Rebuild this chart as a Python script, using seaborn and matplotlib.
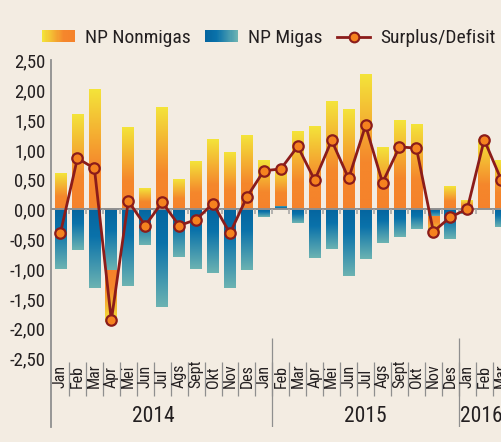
import numpy as np
import matplotlib
matplotlib.use("Agg")
import matplotlib.pyplot as plt
import seaborn as sns
from matplotlib import font_manager
from matplotlib.colors import LinearSegmentedColormap
from matplotlib.patches import Patch, Rectangle
from matplotlib.lines import Line2D
from matplotlib.legend_handler import HandlerBase

# data (triliun US$)
months = ["Jan", "Feb", "Mar", "Apr", "Mei", "Jun", "Jul", "Ags", "Sept", "Okt", "Nov", "Des",
          "Jan", "Feb", "Mar", "Apr", "Mei", "Jun", "Jul", "Ags", "Sept", "Okt", "Nov", "Des",
          "Jan", "Feb", "Mar"]
years = ["2014", "2015", "2016"]
nonmigas = [0.60, 1.58, 2.00, -0.86, 1.36, 0.34, 1.71, 0.50, 0.80, 1.16, 0.94, 1.23,
            0.82, 0.63, 1.30, 1.38, 1.80, 1.67, 2.25, 1.03, 1.48, 1.42, -0.27, 0.38,
            0.15, 1.17, 0.82]
migas = [-1.00, -0.68, -1.31, -1.02, -1.29, -0.60, -1.63, -0.80, -1.00, -1.06, -1.31, -1.02,
         -0.13, 0.06, -0.23, -0.81, -0.67, -1.12, -0.83, -0.56, -0.46, -0.33, -0.13, -0.49,
         -0.08, 0.00, -0.30]
surplus = [-0.39, 0.86, 0.69, -1.86, 0.14, -0.27, 0.12, -0.27, -0.17, 0.10, -0.40, 0.21,
           0.65, 0.68, 1.06, 0.49, 1.16, 0.52, 1.41, 0.45, 1.05, 1.03, -0.37, -0.13,
           0.01, 1.17, 0.50]

# fonts: look for any condensed / narrow face, the original uses one
scale = 1.0
cands = [f for f in font_manager.fontManager.ttflist
         if any(s in (f.fname + " " + f.name).lower() for s in ("narrow", "condensed"))
         and f.style == "normal" and f.weight in (400, "normal", "regular")
         and "semi" not in f.fname.lower() and "extra" not in f.fname.lower()]
if cands:
    pick = cands[0]
    for pref in ("Liberation Sans Narrow", "Roboto Condensed", "Open Sans Condensed",
                 "Noto Sans", "DejaVu Sans"):
        hit = [c for c in cands if c.name == pref]
        if hit:
            pick = hit[0]
            break
    plt.rcParams["font.family"] = [pick.name, "DejaVu Sans"]
    plt.rcParams["font.stretch"] = pick.stretch
else:
    plt.rcParams["font.family"] = ["Liberation Sans", "DejaVu Sans"]
    scale = 0.86

BG = "#f3ece2"
TXT = "#231f20"
GRAY = "#8f8f8f"
LINE = "#8b1c1a"
DOT = "#f5821f"
cmap_nm = LinearSegmentedColormap.from_list(
    "nm", [(0, "#f5822b"), (0.35, "#f5872c"), (1, "#f3e43a")])
cmap_mg = LinearSegmentedColormap.from_list(
    "mg", [(0, "#05659f"), (0.35, "#0a72aa"), (1, "#6cb3b2")])

n = len(months)
pos = np.arange(n)
nm = np.array(nonmigas)
mg = np.array(migas)
# nonmigas stacks on top of migas when both have the same sign
nm_bottom = np.where(np.sign(nm) == np.sign(mg), mg, 0.0)

fig = plt.figure(figsize=(5.02, 4.42), dpi=100, facecolor=BG)
ax = fig.add_axes([51 / 502, 15 / 442, 1 - 51 / 502, 366.5 / 442])
ax.set_facecolor(BG)


def fill_gradient(patch, cmap):
    x, y = patch.get_x(), patch.get_y()
    w, h = patch.get_width(), patch.get_height()
    patch.set_facecolor("none")
    patch.set_edgecolor("none")
    if h == 0:
        return
    grad = np.linspace(0, 1, 256).reshape(-1, 1)
    if h < 0:
        grad = grad[::-1]
    y0, y1 = sorted([y, y + h])
    ax.imshow(grad, cmap=cmap, extent=[x, x + w, y0, y1], origin="lower",
              aspect="auto", zorder=2, interpolation="bilinear")


k = len(ax.patches)
sns.barplot(x=pos, y=mg, color=cmap_mg(0), width=0.69, errorbar=None,
            saturation=1, ax=ax)
mg_bars = ax.patches[k:]
k = len(ax.patches)
sns.barplot(x=pos, y=nm, color=cmap_nm(0), width=0.69, errorbar=None,
            saturation=1, ax=ax)
nm_bars = ax.patches[k:]

for p in mg_bars:
    fill_gradient(p, cmap_mg)
for p, b in zip(nm_bars, nm_bottom):
    p.set_y(b)
    fill_gradient(p, cmap_nm)

sns.lineplot(x=pos, y=surplus, ax=ax, color=LINE, linewidth=2.0, marker="o",
             markersize=7.5, markerfacecolor=DOT, markeredgecolor=LINE,
             markeredgewidth=1.6, zorder=6, legend=False)

# zero line with small ticks between months
ax.axhline(0, color=GRAY, lw=1.4, zorder=4)
ax.vlines(pos[:-1] + 0.5, -0.07, 0, color="#a8a8a8", lw=1.2, zorder=4)

# month labels, separators and years under the plot
for i, m in enumerate(months):
    ax.text(i, -2.99, m, rotation=90, ha="center", va="bottom",
            fontsize=11.5 * scale, color=TXT)
ax.vlines(pos[:-1] + 0.5, -2.56, -3.13, color=GRAY, lw=0.9)
ax.vlines([12.5, 23.5], -2.16, -3.65, color=GRAY, lw=0.9)
ax.text(5.5, -3.48, years[0], ha="center", va="center", fontsize=15.5 * scale, color=TXT)
ax.text(18.0, -3.48, years[1], ha="center", va="center", fontsize=15.5 * scale, color=TXT)
ax.text(23.55, -3.48, years[2], ha="left", va="center", fontsize=15.5 * scale, color=TXT)

ax.set_xlim(-0.56, 26.05)
ax.set_ylim(-3.65, 2.5)
yt = np.arange(-2.5, 2.51, 0.5)
ax.set_yticks(yt)
ax.set_yticklabels([f"{v:.2f}".replace(".", ",") for v in yt],
                   fontsize=13.5 * scale, color=TXT)
ax.tick_params(axis="y", length=0, pad=4)
ax.set_xticks([])
ax.set_xlabel("")
ax.set_ylabel("")
for s in ["top", "right", "bottom"]:
    ax.spines[s].set_visible(False)
ax.spines["left"].set_color(GRAY)
ax.spines["left"].set_linewidth(1.3)


class GradientHandler(HandlerBase):
    def __init__(self, cmap, reverse=False):
        super().__init__()
        self.cmap = cmap
        self.reverse = reverse

    def create_artists(self, legend, orig_handle, xdescent, ydescent,
                       width, height, fontsize, trans):
        steps = 30
        arts = []
        for i in range(steps):
            t = i / (steps - 1)
            if self.reverse:
                t = 1 - t
            r = Rectangle((-xdescent + width * i / steps, -ydescent),
                          width / steps * 1.1, height, facecolor=self.cmap(t),
                          edgecolor="none", transform=trans)
            arts.append(r)
        return arts


h_nm = Patch()
h_mg = Patch()
h_sd = Line2D([], [], color=LINE, lw=2.0, marker="o", markersize=7,
              markerfacecolor=DOT, markeredgecolor=LINE, markeredgewidth=1.5)
fig.legend([h_nm, h_mg, h_sd], ["NP Nonmigas", "NP Migas", "Surplus/Defisit"],
           loc="center", bbox_to_anchor=(0.535, 0.914), ncol=3, frameon=False,
           fontsize=14 * scale, handlelength=1.7 / scale, handleheight=0.6,
           handletextpad=0.5, columnspacing=0.75, labelcolor=TXT,
           handler_map={h_nm: GradientHandler(cmap_nm, reverse=True),
                        h_mg: GradientHandler(cmap_mg)})

fig.savefig("out.png", dpi=100, facecolor=BG)
